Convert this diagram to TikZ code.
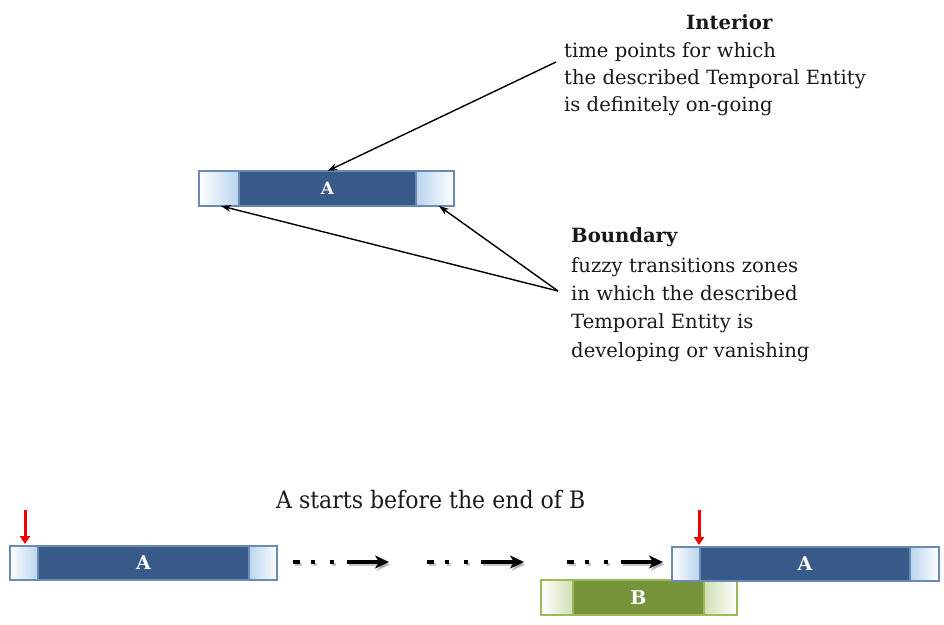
\documentclass[tikz,border=0pt]{standalone}
\usepackage{fontspec}
\usepackage{graphicx}
\setmainfont{DejaVu Serif}
\usetikzlibrary{arrows.meta}
\definecolor{barblue}{RGB}{56,90,136}
\definecolor{barline}{RGB}{108,138,182}
\definecolor{lightblue}{RGB}{185,212,238}
\definecolor{bargreen}{RGB}{119,147,60}
\definecolor{greenline}{RGB}{155,187,89}
\definecolor{lightgreen}{RGB}{208,223,180}
\definecolor{arrred}{RGB}{245,0,0}
\definecolor{txtc}{RGB}{25,25,25}
\begin{document}
\begin{tikzpicture}[x=1pt,y=-1pt,
  seg/.style={rectangle, anchor=north west, inner sep=0pt, outer sep=0pt, line width=1.1pt},
  bluein/.style={seg, fill=barblue, draw=barline, text=white},
  blueL/.style={seg, draw=barline, left color=white, right color=lightblue},
  blueR/.style={seg, draw=barline, left color=lightblue, right color=white},
  greenin/.style={seg, fill=bargreen, draw=greenline, text=white},
  greenL/.style={seg, draw=greenline, left color=white, right color=lightgreen},
  greenR/.style={seg, draw=greenline, left color=lightgreen, right color=white},
  small/.style={font=\bfseries\fontsize{17}{17}\selectfont},
  big/.style={font=\bfseries\fontsize{19}{19}\selectfont},
  txt/.style={anchor=base west, inner sep=0pt, text=txtc, font=\fontsize{19.6}{23}\selectfont},
  pointer/.style={line width=1.4pt, -{Stealth[length=10pt,width=7pt]}},
  redarr/.style={draw=arrred, line width=3pt, -{Triangle[length=8pt,width=10pt]}},
  dotarr/.style={line width=3.5pt, dash pattern=on 7pt off 11pt on 4pt off 15pt on 4pt off 13pt on 300pt off 1pt,
     -{Stealth[length=14pt,width=13pt,inset=4pt]}},
  shadowc/.style={draw=gray, opacity=0.45}
]
\useasboundingbox (0,0) rectangle (944,624);

% ---- top bar
\node[blueL, minimum width=40, minimum height=35] (lbA) at (199,171) {};
\node[blueR, minimum width=38, minimum height=35] (rbA) at (416,171) {};
\node[bluein, small, minimum width=177, minimum height=35] (iA) at (239,171) {A};

% ---- Interior text
\node[txt, font=\bfseries\fontsize{19.6}{23}\selectfont] (intT) at (686,29) {Interior};
\node[txt] (int1) at (564,57) {time points for which};
\node[txt] (int2) at (564,84) {the described Temporal Entity};
\node[txt] (int3) at (564,111) {is definitely on-going};

% ---- Boundary text
\node[txt, font=\bfseries\fontsize{19.6}{23}\selectfont] (bndT) at (571,242) {Boundary};
\node[txt] (bnd1) at (571,272) {fuzzy transitions zones};
\node[txt] (bnd2) at (571,300) {in which the described};
\node[txt] (bnd3) at (571,328) {Temporal Entity is};
\node[txt] (bnd4) at (571,357) {developing or vanishing};

% ---- pointers
\coordinate (iS) at (556,62);
\coordinate (bS) at (558,291);
\draw[pointer] (iS) -- (iA.north);
\draw[pointer] (bS) -- ([xshift=2pt]lbA.south);
\draw[pointer] (bS) -- ([xshift=4pt]rbA.south);

% ---- bottom title
\node[anchor=base west, inner sep=0pt, text=txtc, font=\fontsize{24}{28}\selectfont] (title) at (276,508)
  {\resizebox{309pt}{\height}{A starts before the end of B}};

% ---- bottom left A
\node[blueL, minimum width=28, minimum height=34] (lbL) at (10,546) {};
\node[blueR, minimum width=28, minimum height=34] (rbL) at (249,546) {};
\node[bluein, big, minimum width=211, minimum height=34] (iL) at (38,546) {A};

% ---- B bar
\node[greenL, minimum width=32, minimum height=35] (lbB) at (541,580) {};
\node[greenR, minimum width=33, minimum height=35] (rbB) at (704,580) {};
\node[greenin, big, minimum width=131, minimum height=35] (iB) at (573,580) {B};

% ---- bottom right A
\node[blueL, minimum width=28, minimum height=34] (lbR) at (672,547) {};
\node[blueR, minimum width=29, minimum height=34] (rbR) at (910,547) {};
\node[bluein, big, minimum width=210, minimum height=34] (iR) at (700,547) {A};

% ---- red arrows
\coordinate (r1) at (25,510);
\coordinate (r2) at (699,510);
\draw[redarr, shorten >=2pt] (r1) -- (r1 |- lbL.north);
\draw[redarr, shorten >=2pt] (r2) -- (r2 |- iR.north);

% ---- dotted arrows
\foreach \i/\a/\b in {1/293/389,2/427/524,3/567/663}{
  \coordinate (d\i s) at (\a,562);
  \coordinate (d\i e) at (\b,562);
  \draw[dotarr, shadowc] ([shift={(1.5,2.5)}]d\i s) -- ([shift={(1.5,2.5)}]d\i e);
  \draw[dotarr] (d\i s) -- (d\i e);
}
\end{tikzpicture}
\end{document}
